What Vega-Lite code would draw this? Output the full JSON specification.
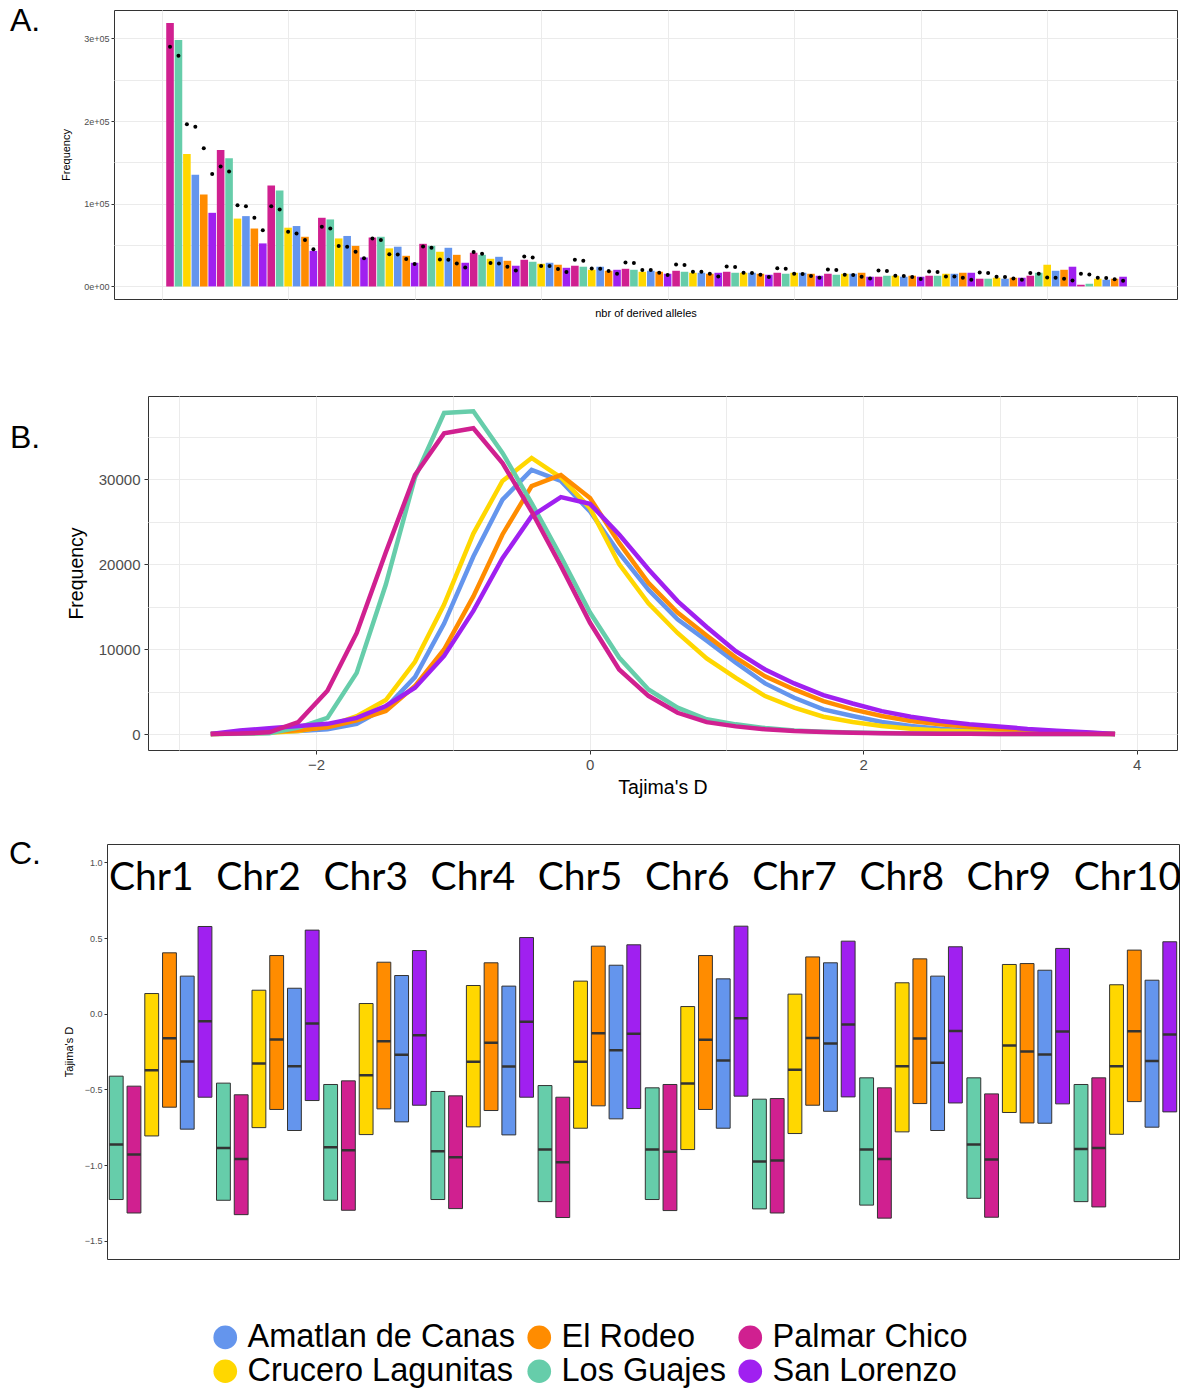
{
"$schema":"https://vega.github.io/schema/vega-lite/v6.json",
"padding":{"left":0,"top":4,"right":0,"bottom":0},
"config":{"font":"Liberation Sans","view":{"stroke":"#333","strokeWidth":1},
"axis":{"domain":false,"labelColor":"#4d4d4d","tickColor":"#333","gridColor":"#ebebeb","gridWidth":1,"titleColor":"#000","titleFontWeight":"normal","labelFont":"Liberation Sans","titleFont":"Liberation Sans"}},
"datasets":{
"sfs":[
{"i":1,"pop":"Palmar Chico","n":318500,"e":290000},{"i":2,"pop":"Los Guajes","n":298000,"e":279000},{"i":3,"pop":"Crucero Lagunitas","n":160000,"e":196000},{"i":4,"pop":"Amatlan de Canas","n":135000,"e":193000},{"i":5,"pop":"El Rodeo","n":111000,"e":167000},{"i":6,"pop":"San Lorenzo","n":89000,"e":136000},
{"i":7,"pop":"Palmar Chico","n":165000,"e":145000},{"i":8,"pop":"Los Guajes","n":155000,"e":139000},{"i":9,"pop":"Crucero Lagunitas","n":82000,"e":98000},{"i":10,"pop":"Amatlan de Canas","n":85000,"e":97000},{"i":11,"pop":"El Rodeo","n":70000,"e":83000},{"i":12,"pop":"San Lorenzo","n":52000,"e":68000},
{"i":13,"pop":"Palmar Chico","n":122000,"e":97000},{"i":14,"pop":"Los Guajes","n":116000,"e":93000},{"i":15,"pop":"Crucero Lagunitas","n":71000,"e":66000},{"i":16,"pop":"Amatlan de Canas","n":73000,"e":64000},{"i":17,"pop":"El Rodeo","n":60000,"e":56000},{"i":18,"pop":"San Lorenzo","n":43000,"e":45000},
{"i":19,"pop":"Palmar Chico","n":83000,"e":72000},{"i":20,"pop":"Los Guajes","n":81000,"e":70000},{"i":21,"pop":"Crucero Lagunitas","n":58000,"e":49000},{"i":22,"pop":"Amatlan de Canas","n":61000,"e":48000},{"i":23,"pop":"El Rodeo","n":49000,"e":42000},{"i":24,"pop":"San Lorenzo","n":35000,"e":34000},
{"i":25,"pop":"Palmar Chico","n":59000,"e":58000},{"i":26,"pop":"Los Guajes","n":60000,"e":56000},{"i":27,"pop":"Crucero Lagunitas","n":46000,"e":39000},{"i":28,"pop":"Amatlan de Canas","n":48000,"e":38600},{"i":29,"pop":"El Rodeo","n":37000,"e":33000},{"i":30,"pop":"San Lorenzo","n":28600,"e":27000},
{"i":31,"pop":"Palmar Chico","n":51500,"e":48300},{"i":32,"pop":"Los Guajes","n":49100,"e":46700},{"i":33,"pop":"Crucero Lagunitas","n":41900,"e":32600},{"i":34,"pop":"Amatlan de Canas","n":46700,"e":32200},{"i":35,"pop":"El Rodeo","n":38200,"e":27800},{"i":36,"pop":"San Lorenzo","n":28600,"e":22900},
{"i":37,"pop":"Palmar Chico","n":40700,"e":41500},{"i":38,"pop":"Los Guajes","n":38200,"e":39500},{"i":39,"pop":"Crucero Lagunitas","n":33400,"e":28200},{"i":40,"pop":"Amatlan de Canas","n":35800,"e":27800},{"i":41,"pop":"El Rodeo","n":31000,"e":23800},{"i":42,"pop":"San Lorenzo","n":25000,"e":19300},
{"i":43,"pop":"Palmar Chico","n":32200,"e":36200},{"i":44,"pop":"Los Guajes","n":29800,"e":35000},{"i":45,"pop":"Crucero Lagunitas","n":27400,"e":24600},{"i":46,"pop":"Amatlan de Canas","n":28600,"e":24600},{"i":47,"pop":"El Rodeo","n":26200,"e":20900},{"i":48,"pop":"San Lorenzo","n":22500,"e":17300},
{"i":49,"pop":"Palmar Chico","n":25000,"e":32200},{"i":50,"pop":"Los Guajes","n":23800,"e":31000},{"i":51,"pop":"Crucero Lagunitas","n":20100,"e":21700},{"i":52,"pop":"Amatlan de Canas","n":23800,"e":21300},{"i":53,"pop":"El Rodeo","n":18900,"e":18500},{"i":54,"pop":"San Lorenzo","n":20100,"e":15300},
{"i":55,"pop":"Palmar Chico","n":21300,"e":29000},{"i":56,"pop":"Los Guajes","n":20100,"e":28200},{"i":57,"pop":"Crucero Lagunitas","n":17700,"e":19700},{"i":58,"pop":"Amatlan de Canas","n":18900,"e":19700},{"i":59,"pop":"El Rodeo","n":17700,"e":16500},{"i":60,"pop":"San Lorenzo","n":15300,"e":13700},
{"i":61,"pop":"Palmar Chico","n":18900,"e":26600},{"i":62,"pop":"Los Guajes","n":17700,"e":25800},{"i":63,"pop":"Crucero Lagunitas","n":16500,"e":17700},{"i":64,"pop":"Amatlan de Canas","n":16500,"e":17700},{"i":65,"pop":"El Rodeo","n":15300,"e":15300},{"i":66,"pop":"San Lorenzo","n":16500,"e":12100},
{"i":67,"pop":"Palmar Chico","n":17700,"e":24200},{"i":68,"pop":"Los Guajes","n":16500,"e":23400},{"i":69,"pop":"Crucero Lagunitas","n":16500,"e":16500},{"i":70,"pop":"Amatlan de Canas","n":16500,"e":16100},{"i":71,"pop":"El Rodeo","n":15300,"e":14100},{"i":72,"pop":"San Lorenzo","n":14100,"e":11300},
{"i":73,"pop":"Palmar Chico","n":16500,"e":22100},{"i":74,"pop":"Los Guajes","n":15300,"e":21300},{"i":75,"pop":"Crucero Lagunitas","n":16500,"e":15300},{"i":76,"pop":"Amatlan de Canas","n":16500,"e":14900},{"i":77,"pop":"El Rodeo","n":15300,"e":12500},{"i":78,"pop":"San Lorenzo","n":12900,"e":10500},
{"i":79,"pop":"Palmar Chico","n":15300,"e":20500},{"i":80,"pop":"Los Guajes","n":14100,"e":19700},{"i":81,"pop":"Crucero Lagunitas","n":15300,"e":14100},{"i":82,"pop":"Amatlan de Canas","n":15300,"e":13700},{"i":83,"pop":"El Rodeo","n":16500,"e":11700},{"i":84,"pop":"San Lorenzo","n":11700,"e":9700},
{"i":85,"pop":"Palmar Chico","n":11700,"e":19300},{"i":86,"pop":"Los Guajes","n":12900,"e":18500},{"i":87,"pop":"Crucero Lagunitas","n":12900,"e":12900},{"i":88,"pop":"Amatlan de Canas","n":11700,"e":12500},{"i":89,"pop":"El Rodeo","n":12900,"e":11300},{"i":90,"pop":"San Lorenzo","n":11700,"e":8900},
{"i":91,"pop":"Palmar Chico","n":12900,"e":18100},{"i":92,"pop":"Los Guajes","n":12900,"e":17300},{"i":93,"pop":"Crucero Lagunitas","n":15300,"e":12100},{"i":94,"pop":"Amatlan de Canas","n":15300,"e":12100},{"i":95,"pop":"El Rodeo","n":16500,"e":10500},{"i":96,"pop":"San Lorenzo","n":16500,"e":8100},
{"i":97,"pop":"Palmar Chico","n":9300,"e":16900},{"i":98,"pop":"Los Guajes","n":9300,"e":16100},{"i":99,"pop":"Crucero Lagunitas","n":10500,"e":11700},{"i":100,"pop":"Amatlan de Canas","n":9300,"e":11300},{"i":101,"pop":"El Rodeo","n":10500,"e":9700},{"i":102,"pop":"San Lorenzo","n":10500,"e":8100},
{"i":103,"pop":"Palmar Chico","n":12900,"e":16100},{"i":104,"pop":"Los Guajes","n":16500,"e":15300},{"i":105,"pop":"Crucero Lagunitas","n":26200,"e":10900},{"i":106,"pop":"Amatlan de Canas","n":18900,"e":10500},{"i":107,"pop":"El Rodeo","n":20100,"e":9300},{"i":108,"pop":"San Lorenzo","n":23800,"e":7200},
{"i":109,"pop":"Palmar Chico","n":2000,"e":15300},{"i":110,"pop":"Los Guajes","n":3200,"e":14500},{"i":111,"pop":"Crucero Lagunitas","n":9300,"e":10500},{"i":112,"pop":"Amatlan de Canas","n":8100,"e":10100},{"i":113,"pop":"El Rodeo","n":9300,"e":8500},{"i":114,"pop":"San Lorenzo","n":11700,"e":6800}
],
"td":[
{"pop":"Amatlan de Canas","D":-2.770,"f":0},{"pop":"Amatlan de Canas","D":-2.557,"f":100},{"pop":"Amatlan de Canas","D":-2.343,"f":200},{"pop":"Amatlan de Canas","D":-2.130,"f":350},{"pop":"Amatlan de Canas","D":-1.917,"f":550},{"pop":"Amatlan de Canas","D":-1.703,"f":1200},{"pop":"Amatlan de Canas","D":-1.490,"f":3100},{"pop":"Amatlan de Canas","D":-1.277,"f":6700},{"pop":"Amatlan de Canas","D":-1.064,"f":13000},{"pop":"Amatlan de Canas","D":-0.850,"f":20900},{"pop":"Amatlan de Canas","D":-0.637,"f":27600},{"pop":"Amatlan de Canas","D":-0.424,"f":31100},{"pop":"Amatlan de Canas","D":-0.210,"f":29800},{"pop":"Amatlan de Canas","D":0.003,"f":26200},{"pop":"Amatlan de Canas","D":0.216,"f":21300},{"pop":"Amatlan de Canas","D":0.430,"f":17000},{"pop":"Amatlan de Canas","D":0.643,"f":13500},{"pop":"Amatlan de Canas","D":0.856,"f":11000},{"pop":"Amatlan de Canas","D":1.069,"f":8400},{"pop":"Amatlan de Canas","D":1.283,"f":5960},{"pop":"Amatlan de Canas","D":1.496,"f":4270},{"pop":"Amatlan de Canas","D":1.709,"f":2900},{"pop":"Amatlan de Canas","D":1.923,"f":2120},{"pop":"Amatlan de Canas","D":2.136,"f":1410},{"pop":"Amatlan de Canas","D":2.349,"f":940},{"pop":"Amatlan de Canas","D":2.563,"f":630},{"pop":"Amatlan de Canas","D":2.776,"f":430},{"pop":"Amatlan de Canas","D":2.989,"f":310},{"pop":"Amatlan de Canas","D":3.202,"f":200},{"pop":"Amatlan de Canas","D":3.416,"f":120},{"pop":"Amatlan de Canas","D":3.629,"f":60},{"pop":"Amatlan de Canas","D":3.842,"f":0},
{"pop":"Crucero Lagunitas","D":-2.770,"f":0},{"pop":"Crucero Lagunitas","D":-2.557,"f":50},{"pop":"Crucero Lagunitas","D":-2.343,"f":150},{"pop":"Crucero Lagunitas","D":-2.130,"f":350},{"pop":"Crucero Lagunitas","D":-1.917,"f":900},{"pop":"Crucero Lagunitas","D":-1.703,"f":2100},{"pop":"Crucero Lagunitas","D":-1.490,"f":4000},{"pop":"Crucero Lagunitas","D":-1.277,"f":8500},{"pop":"Crucero Lagunitas","D":-1.064,"f":15250},{"pop":"Crucero Lagunitas","D":-0.850,"f":23600},{"pop":"Crucero Lagunitas","D":-0.637,"f":29800},{"pop":"Crucero Lagunitas","D":-0.424,"f":32500},{"pop":"Crucero Lagunitas","D":-0.210,"f":30200},{"pop":"Crucero Lagunitas","D":0.003,"f":26600},{"pop":"Crucero Lagunitas","D":0.216,"f":20000},{"pop":"Crucero Lagunitas","D":0.430,"f":15400},{"pop":"Crucero Lagunitas","D":0.643,"f":11900},{"pop":"Crucero Lagunitas","D":0.856,"f":8900},{"pop":"Crucero Lagunitas","D":1.069,"f":6600},{"pop":"Crucero Lagunitas","D":1.283,"f":4470},{"pop":"Crucero Lagunitas","D":1.496,"f":3100},{"pop":"Crucero Lagunitas","D":1.709,"f":2040},{"pop":"Crucero Lagunitas","D":1.923,"f":1410},{"pop":"Crucero Lagunitas","D":2.136,"f":940},{"pop":"Crucero Lagunitas","D":2.349,"f":630},{"pop":"Crucero Lagunitas","D":2.563,"f":430},{"pop":"Crucero Lagunitas","D":2.776,"f":310},{"pop":"Crucero Lagunitas","D":2.989,"f":230},{"pop":"Crucero Lagunitas","D":3.202,"f":150},{"pop":"Crucero Lagunitas","D":3.416,"f":90},{"pop":"Crucero Lagunitas","D":3.629,"f":40},{"pop":"Crucero Lagunitas","D":3.842,"f":0},
{"pop":"El Rodeo","D":-2.770,"f":0},{"pop":"El Rodeo","D":-2.557,"f":100},{"pop":"El Rodeo","D":-2.343,"f":250},{"pop":"El Rodeo","D":-2.130,"f":450},{"pop":"El Rodeo","D":-1.917,"f":800},{"pop":"El Rodeo","D":-1.703,"f":1600},{"pop":"El Rodeo","D":-1.490,"f":2700},{"pop":"El Rodeo","D":-1.277,"f":5650},{"pop":"El Rodeo","D":-1.064,"f":9950},{"pop":"El Rodeo","D":-0.850,"f":16200},{"pop":"El Rodeo","D":-0.637,"f":23500},{"pop":"El Rodeo","D":-0.424,"f":29200},{"pop":"El Rodeo","D":-0.210,"f":30500},{"pop":"El Rodeo","D":0.003,"f":27800},{"pop":"El Rodeo","D":0.216,"f":22500},{"pop":"El Rodeo","D":0.430,"f":17800},{"pop":"El Rodeo","D":0.643,"f":14300},{"pop":"El Rodeo","D":0.856,"f":11600},{"pop":"El Rodeo","D":1.069,"f":9000},{"pop":"El Rodeo","D":1.283,"f":6800},{"pop":"El Rodeo","D":1.496,"f":5250},{"pop":"El Rodeo","D":1.709,"f":3880},{"pop":"El Rodeo","D":1.923,"f":2900},{"pop":"El Rodeo","D":2.136,"f":2120},{"pop":"El Rodeo","D":2.349,"f":1530},{"pop":"El Rodeo","D":2.563,"f":1140},{"pop":"El Rodeo","D":2.776,"f":860},{"pop":"El Rodeo","D":2.989,"f":630},{"pop":"El Rodeo","D":3.202,"f":420},{"pop":"El Rodeo","D":3.416,"f":260},{"pop":"El Rodeo","D":3.629,"f":140},{"pop":"El Rodeo","D":3.842,"f":0},
{"pop":"Los Guajes","D":-2.770,"f":0},{"pop":"Los Guajes","D":-2.557,"f":30},{"pop":"Los Guajes","D":-2.343,"f":100},{"pop":"Los Guajes","D":-2.130,"f":750},{"pop":"Los Guajes","D":-1.917,"f":1900},{"pop":"Los Guajes","D":-1.703,"f":7200},{"pop":"Los Guajes","D":-1.490,"f":17600},{"pop":"Los Guajes","D":-1.277,"f":30200},{"pop":"Los Guajes","D":-1.064,"f":37800},{"pop":"Los Guajes","D":-0.850,"f":38000},{"pop":"Los Guajes","D":-0.637,"f":33100},{"pop":"Los Guajes","D":-0.424,"f":27200},{"pop":"Los Guajes","D":-0.210,"f":20900},{"pop":"Los Guajes","D":0.003,"f":14300},{"pop":"Los Guajes","D":0.216,"f":9000},{"pop":"Los Guajes","D":0.430,"f":5250},{"pop":"Los Guajes","D":0.643,"f":3100},{"pop":"Los Guajes","D":0.856,"f":1730},{"pop":"Los Guajes","D":1.069,"f":1140},{"pop":"Los Guajes","D":1.283,"f":700},{"pop":"Los Guajes","D":1.496,"f":430},{"pop":"Los Guajes","D":1.709,"f":280},{"pop":"Los Guajes","D":1.923,"f":170},{"pop":"Los Guajes","D":2.136,"f":110},{"pop":"Los Guajes","D":2.349,"f":70},{"pop":"Los Guajes","D":2.563,"f":40},{"pop":"Los Guajes","D":2.776,"f":25},{"pop":"Los Guajes","D":2.989,"f":15},{"pop":"Los Guajes","D":3.202,"f":10},{"pop":"Los Guajes","D":3.416,"f":5},{"pop":"Los Guajes","D":3.629,"f":3},{"pop":"Los Guajes","D":3.842,"f":0},
{"pop":"San Lorenzo","D":-2.770,"f":0},{"pop":"San Lorenzo","D":-2.557,"f":430},{"pop":"San Lorenzo","D":-2.343,"f":670},{"pop":"San Lorenzo","D":-2.130,"f":940},{"pop":"San Lorenzo","D":-1.917,"f":1200},{"pop":"San Lorenzo","D":-1.703,"f":1900},{"pop":"San Lorenzo","D":-1.490,"f":3300},{"pop":"San Lorenzo","D":-1.277,"f":5450},{"pop":"San Lorenzo","D":-1.064,"f":9200},{"pop":"San Lorenzo","D":-0.850,"f":14500},{"pop":"San Lorenzo","D":-0.637,"f":20700},{"pop":"San Lorenzo","D":-0.424,"f":25650},{"pop":"San Lorenzo","D":-0.210,"f":27900},{"pop":"San Lorenzo","D":0.003,"f":27100},{"pop":"San Lorenzo","D":0.216,"f":23500},{"pop":"San Lorenzo","D":0.430,"f":19400},{"pop":"San Lorenzo","D":0.643,"f":15650},{"pop":"San Lorenzo","D":0.856,"f":12600},{"pop":"San Lorenzo","D":1.069,"f":9760},{"pop":"San Lorenzo","D":1.283,"f":7600},{"pop":"San Lorenzo","D":1.496,"f":5960},{"pop":"San Lorenzo","D":1.709,"f":4590},{"pop":"San Lorenzo","D":1.923,"f":3600},{"pop":"San Lorenzo","D":2.136,"f":2700},{"pop":"San Lorenzo","D":2.349,"f":2040},{"pop":"San Lorenzo","D":2.563,"f":1530},{"pop":"San Lorenzo","D":2.776,"f":1140},{"pop":"San Lorenzo","D":2.989,"f":900},{"pop":"San Lorenzo","D":3.202,"f":600},{"pop":"San Lorenzo","D":3.416,"f":380},{"pop":"San Lorenzo","D":3.629,"f":200},{"pop":"San Lorenzo","D":3.842,"f":0},
{"pop":"Palmar Chico","D":-2.770,"f":0},{"pop":"Palmar Chico","D":-2.557,"f":50},{"pop":"Palmar Chico","D":-2.343,"f":200},{"pop":"Palmar Chico","D":-2.130,"f":1400},{"pop":"Palmar Chico","D":-1.917,"f":5100},{"pop":"Palmar Chico","D":-1.703,"f":11900},{"pop":"Palmar Chico","D":-1.490,"f":21400},{"pop":"Palmar Chico","D":-1.277,"f":30500},{"pop":"Palmar Chico","D":-1.064,"f":35400},{"pop":"Palmar Chico","D":-0.850,"f":36000},{"pop":"Palmar Chico","D":-0.637,"f":31900},{"pop":"Palmar Chico","D":-0.424,"f":26200},{"pop":"Palmar Chico","D":-0.210,"f":19800},{"pop":"Palmar Chico","D":0.003,"f":13100},{"pop":"Palmar Chico","D":0.216,"f":7600},{"pop":"Palmar Chico","D":0.430,"f":4500},{"pop":"Palmar Chico","D":0.643,"f":2500},{"pop":"Palmar Chico","D":0.856,"f":1400},{"pop":"Palmar Chico","D":1.069,"f":900},{"pop":"Palmar Chico","D":1.283,"f":550},{"pop":"Palmar Chico","D":1.496,"f":350},{"pop":"Palmar Chico","D":1.709,"f":240},{"pop":"Palmar Chico","D":1.923,"f":150},{"pop":"Palmar Chico","D":2.136,"f":100},{"pop":"Palmar Chico","D":2.349,"f":60},{"pop":"Palmar Chico","D":2.563,"f":40},{"pop":"Palmar Chico","D":2.776,"f":25},{"pop":"Palmar Chico","D":2.989,"f":15},{"pop":"Palmar Chico","D":3.202,"f":10},{"pop":"Palmar Chico","D":3.416,"f":5},{"pop":"Palmar Chico","D":3.629,"f":3},{"pop":"Palmar Chico","D":3.842,"f":0}
],
"chr":[
{"chr":"Chr1","pop":"Los Guajes","lo":-1.227,"hi":-0.412,"mid":-0.864},{"chr":"Chr1","pop":"Palmar Chico","lo":-1.316,"hi":-0.478,"mid":-0.930},{"chr":"Chr1","pop":"Crucero Lagunitas","lo":-0.807,"hi":0.134,"mid":-0.373},{"chr":"Chr1","pop":"El Rodeo","lo":-0.617,"hi":0.403,"mid":-0.161},{"chr":"Chr1","pop":"Amatlan de Canas","lo":-0.762,"hi":0.249,"mid":-0.315},{"chr":"Chr1","pop":"San Lorenzo","lo":-0.551,"hi":0.577,"mid":-0.049},
{"chr":"Chr2","pop":"Los Guajes","lo":-1.232,"hi":-0.458,"mid":-0.886},{"chr":"Chr2","pop":"Palmar Chico","lo":-1.327,"hi":-0.535,"mid":-0.959},{"chr":"Chr2","pop":"Crucero Lagunitas","lo":-0.752,"hi":0.156,"mid":-0.329},{"chr":"Chr2","pop":"El Rodeo","lo":-0.632,"hi":0.385,"mid":-0.170},{"chr":"Chr2","pop":"Amatlan de Canas","lo":-0.771,"hi":0.169,"mid":-0.346},{"chr":"Chr2","pop":"San Lorenzo","lo":-0.573,"hi":0.553,"mid":-0.064},
{"chr":"Chr3","pop":"Los Guajes","lo":-1.232,"hi":-0.467,"mid":-0.881},{"chr":"Chr3","pop":"Palmar Chico","lo":-1.298,"hi":-0.443,"mid":-0.901},{"chr":"Chr3","pop":"Crucero Lagunitas","lo":-0.798,"hi":0.068,"mid":-0.406},{"chr":"Chr3","pop":"El Rodeo","lo":-0.628,"hi":0.341,"mid":-0.181},{"chr":"Chr3","pop":"Amatlan de Canas","lo":-0.714,"hi":0.253,"mid":-0.271},{"chr":"Chr3","pop":"San Lorenzo","lo":-0.604,"hi":0.418,"mid":-0.141},
{"chr":"Chr4","pop":"Los Guajes","lo":-1.227,"hi":-0.513,"mid":-0.908},{"chr":"Chr4","pop":"Palmar Chico","lo":-1.287,"hi":-0.542,"mid":-0.947},{"chr":"Chr4","pop":"Crucero Lagunitas","lo":-0.747,"hi":0.187,"mid":-0.317},{"chr":"Chr4","pop":"El Rodeo","lo":-0.639,"hi":0.337,"mid":-0.192},{"chr":"Chr4","pop":"Amatlan de Canas","lo":-0.800,"hi":0.183,"mid":-0.348},{"chr":"Chr4","pop":"San Lorenzo","lo":-0.551,"hi":0.504,"mid":-0.053},
{"chr":"Chr5","pop":"Los Guajes","lo":-1.241,"hi":-0.474,"mid":-0.897},{"chr":"Chr5","pop":"Palmar Chico","lo":-1.346,"hi":-0.551,"mid":-0.981},{"chr":"Chr5","pop":"Crucero Lagunitas","lo":-0.756,"hi":0.216,"mid":-0.317},{"chr":"Chr5","pop":"El Rodeo","lo":-0.608,"hi":0.447,"mid":-0.128},{"chr":"Chr5","pop":"Amatlan de Canas","lo":-0.694,"hi":0.321,"mid":-0.240},{"chr":"Chr5","pop":"San Lorenzo","lo":-0.626,"hi":0.456,"mid":-0.132},
{"chr":"Chr6","pop":"Los Guajes","lo":-1.227,"hi":-0.489,"mid":-0.897},{"chr":"Chr6","pop":"Palmar Chico","lo":-1.300,"hi":-0.467,"mid":-0.912},{"chr":"Chr6","pop":"Crucero Lagunitas","lo":-0.897,"hi":0.048,"mid":-0.461},{"chr":"Chr6","pop":"El Rodeo","lo":-0.632,"hi":0.385,"mid":-0.172},{"chr":"Chr6","pop":"Amatlan de Canas","lo":-0.756,"hi":0.231,"mid":-0.308},{"chr":"Chr6","pop":"San Lorenzo","lo":-0.544,"hi":0.579,"mid":-0.029},
{"chr":"Chr7","pop":"Los Guajes","lo":-1.289,"hi":-0.564,"mid":-0.976},{"chr":"Chr7","pop":"Palmar Chico","lo":-1.316,"hi":-0.560,"mid":-0.969},{"chr":"Chr7","pop":"Crucero Lagunitas","lo":-0.791,"hi":0.130,"mid":-0.370},{"chr":"Chr7","pop":"El Rodeo","lo":-0.604,"hi":0.376,"mid":-0.159},{"chr":"Chr7","pop":"Amatlan de Canas","lo":-0.644,"hi":0.337,"mid":-0.196},{"chr":"Chr7","pop":"San Lorenzo","lo":-0.549,"hi":0.480,"mid":-0.071},
{"chr":"Chr8","pop":"Los Guajes","lo":-1.264,"hi":-0.423,"mid":-0.897},{"chr":"Chr8","pop":"Palmar Chico","lo":-1.350,"hi":-0.489,"mid":-0.959},{"chr":"Chr8","pop":"Crucero Lagunitas","lo":-0.780,"hi":0.205,"mid":-0.346},{"chr":"Chr8","pop":"El Rodeo","lo":-0.593,"hi":0.363,"mid":-0.163},{"chr":"Chr8","pop":"Amatlan de Canas","lo":-0.771,"hi":0.249,"mid":-0.324},{"chr":"Chr8","pop":"San Lorenzo","lo":-0.589,"hi":0.443,"mid":-0.113},
{"chr":"Chr9","pop":"Los Guajes","lo":-1.219,"hi":-0.423,"mid":-0.864},{"chr":"Chr9","pop":"Palmar Chico","lo":-1.344,"hi":-0.529,"mid":-0.963},{"chr":"Chr9","pop":"Crucero Lagunitas","lo":-0.652,"hi":0.326,"mid":-0.209},{"chr":"Chr9","pop":"El Rodeo","lo":-0.721,"hi":0.332,"mid":-0.249},{"chr":"Chr9","pop":"Amatlan de Canas","lo":-0.723,"hi":0.288,"mid":-0.269},{"chr":"Chr9","pop":"San Lorenzo","lo":-0.595,"hi":0.432,"mid":-0.117},
{"chr":"Chr10","pop":"Los Guajes","lo":-1.241,"hi":-0.467,"mid":-0.894},{"chr":"Chr10","pop":"Palmar Chico","lo":-1.276,"hi":-0.423,"mid":-0.886},{"chr":"Chr10","pop":"Crucero Lagunitas","lo":-0.796,"hi":0.192,"mid":-0.346},{"chr":"Chr10","pop":"El Rodeo","lo":-0.580,"hi":0.421,"mid":-0.115},{"chr":"Chr10","pop":"Amatlan de Canas","lo":-0.749,"hi":0.222,"mid":-0.311},{"chr":"Chr10","pop":"San Lorenzo","lo":-0.648,"hi":0.476,"mid":-0.137}
],
"chrlab":[{"chr":"Chr1"},{"chr":"Chr2"},{"chr":"Chr3"},{"chr":"Chr4"},{"chr":"Chr5"},{"chr":"Chr6"},{"chr":"Chr7"},{"chr":"Chr8"},{"chr":"Chr9"},{"chr":"Chr10"}]
},
"spacing":41,
"vconcat":[
{"spacing":76,"vconcat":[
 {"spacing":10,"hconcat":[
  {"width":50,"height":21,"view":{"stroke":null},"data":{"values":[{"t":"A."}]},"mark":{"type":"text","fontSize":32,"color":"#000"},"encoding":{"text":{"field":"t","type":"nominal"}}},
  {"width":1063,"height":289,"data":{"name":"sfs"},
   "layer":[
    {"mark":{"type":"bar","size":7.6},
     "encoding":{
      "x":{"field":"i","type":"quantitative","scale":{"domain":[-5.05,119.8],"nice":false,"zero":false},"axis":{"values":[0,15,30,45,60,75,90,105],"labels":false,"ticks":false,"grid":true,"title":"nbr of derived alleles","titleFontSize":11,"titlePadding":8}},
      "y":{"field":"n","type":"quantitative","scale":{"domain":[-15240,334300],"nice":false},"axis":{"values":[0,50000,100000,150000,200000,250000,300000],"labelExpr":"datum.value % 100000 === 0 ? (datum.value === 0 ? '0e+00' : replace(format(datum.value, '.0e'), '+', '+0')) : ''","labelFontSize":9,"tickSize":3,"labelPadding":2,"tickColor":{"condition":{"test":"datum.value % 100000 === 0","value":"#333"},"value":"transparent"},"grid":true,"title":"Frequency","titleFontSize":11,"titlePadding":12}},
      "color":{"field":"pop","type":"nominal","scale":{"domain":["Amatlan de Canas","El Rodeo","Palmar Chico","Crucero Lagunitas","Los Guajes","San Lorenzo"],"range":["#6495ED","#FF8C00","#D02090","#FFD700","#66CDAA","#A020F0"]},
        "legend":{"orient":"none","legendX":209,"legendY":1311,"direction":"horizontal","columns":3,"title":null,"labelFontSize":32.5,"labelColor":"#000","labelLimit":500,"symbolType":"circle","symbolSize":560,"symbolStrokeWidth":0,"labelOffset":6,"columnPadding":8,"rowPadding":1,"symbolOpacity":1}}
     }},
    {"mark":{"type":"circle","size":16,"color":"#000","opacity":1},
     "encoding":{"x":{"field":"i","type":"quantitative"},"y":{"field":"e","type":"quantitative"}}}
   ]}
 ]},
 {"spacing":15,"hconcat":[
  {"width":50,"height":84,"view":{"stroke":null},"data":{"values":[{"t":"B."}]},"mark":{"type":"text","fontSize":32,"color":"#000"},"encoding":{"text":{"field":"t","type":"nominal"}}},
  {"width":1029,"height":354,"data":{"name":"td"},
   "mark":{"type":"line","strokeWidth":4.5},
   "encoding":{
    "x":{"field":"D","type":"quantitative","scale":{"domain":[-3.229,4.295],"nice":false,"zero":false},"axis":{"values":[-3,-2,-1,0,1,2,3,4],"format":"d","labelExpr":"datum.value % 2 === 0 ? datum.label : ''","tickColor":{"condition":{"test":"datum.value % 2 === 0","value":"#333"},"value":"transparent"},"labelFontSize":15,"tickSize":4,"labelPadding":3,"grid":true,"title":"Tajima's D","titleFontSize":19.5,"titlePadding":6}},
    "y":{"field":"f","type":"quantitative","scale":{"domain":[-1880,39800],"nice":false},"axis":{"values":[0,5000,10000,15000,20000,25000,30000,35000],"format":"d","labelExpr":"datum.value % 10000 === 0 ? datum.label : ''","tickColor":{"condition":{"test":"datum.value % 10000 === 0","value":"#333"},"value":"transparent"},"labelFontSize":15,"tickSize":4,"labelPadding":4,"grid":true,"title":"Frequency","titleFontSize":19.5,"titlePadding":12}},
    "color":{"field":"pop","type":"nominal","scale":{"domain":["Amatlan de Canas","El Rodeo","Palmar Chico","Crucero Lagunitas","Los Guajes","San Lorenzo"],"range":["#6495ED","#FF8C00","#D02090","#FFD700","#66CDAA","#A020F0"]},
        "legend":{"orient":"none","legendX":209,"legendY":1311,"direction":"horizontal","columns":3,"title":null,"labelFontSize":32.5,"labelColor":"#000","labelLimit":500,"symbolType":"circle","symbolSize":560,"symbolStrokeWidth":0,"labelOffset":6,"columnPadding":8,"rowPadding":1,"symbolOpacity":1}}
   }}
 ]}
]},
{"spacing":12,"hconcat":[
 {"width":50,"height":20,"view":{"stroke":null},"data":{"values":[{"t":"C."}]},"mark":{"type":"text","fontSize":32,"color":"#000"},"encoding":{"text":{"field":"t","type":"nominal"}}},
 {"width":1072,"height":415,
  "layer":[
   {"data":{"name":"chr"},"mark":{"type":"bar","stroke":"#333","strokeWidth":1},
    "encoding":{
     "x":{"field":"chr","type":"nominal","sort":["Chr1","Chr2","Chr3","Chr4","Chr5","Chr6","Chr7","Chr8","Chr9","Chr10"],"scale":{"paddingInner":0,"paddingOuter":0},"axis":null},
     "xOffset":{"field":"pop","type":"nominal","sort":["Los Guajes","Palmar Chico","Crucero Lagunitas","El Rodeo","Amatlan de Canas","San Lorenzo"],"scale":{"paddingInner":0.22,"paddingOuter":0.13}},
     "y":{"field":"lo","type":"quantitative","scale":{"domain":[-1.62,1.122],"nice":false,"zero":false},"axis":{"values":[-1.5,-1,-0.5,0,0.5,1],"format":".1f","labelFontSize":9,"tickSize":3,"labelPadding":2,"grid":false,"title":"Tajima's D","titleFontSize":11,"titlePadding":10}},
     "y2":{"field":"hi"},
     "color":{"field":"pop","type":"nominal","scale":{"domain":["Amatlan de Canas","El Rodeo","Palmar Chico","Crucero Lagunitas","Los Guajes","San Lorenzo"],"range":["#6495ED","#FF8C00","#D02090","#FFD700","#66CDAA","#A020F0"]},
        "legend":{"orient":"none","legendX":209,"legendY":1311,"direction":"horizontal","columns":3,"title":null,"labelFontSize":32.5,"labelColor":"#000","labelLimit":500,"symbolType":"circle","symbolSize":560,"symbolStrokeWidth":0,"labelOffset":6,"columnPadding":8,"rowPadding":1,"symbolOpacity":1}}
    }},
   {"data":{"name":"chr"},"mark":{"type":"bar","stroke":"#333","strokeWidth":2.5,"fill":"#333"},
    "encoding":{
     "x":{"field":"chr","type":"nominal","sort":["Chr1","Chr2","Chr3","Chr4","Chr5","Chr6","Chr7","Chr8","Chr9","Chr10"]},
     "xOffset":{"field":"pop","type":"nominal","sort":["Los Guajes","Palmar Chico","Crucero Lagunitas","El Rodeo","Amatlan de Canas","San Lorenzo"]},
     "y":{"field":"mid","type":"quantitative"},
     "y2":{"field":"mid"}
    }},
   {"mark":{"type":"rule","color":"#F5C400","strokeWidth":1.2},"encoding":{"y":{"datum":-0.353}}},
   {"data":{"name":"chrlab"},"mark":{"type":"text","align":"left","baseline":"middle","fontSize":39,"font":"Lato","color":"#000","dx":2},
    "encoding":{
     "x":{"field":"chr","type":"nominal","bandPosition":0,"sort":["Chr1","Chr2","Chr3","Chr4","Chr5","Chr6","Chr7","Chr8","Chr9","Chr10"]},
     "y":{"datum":0.9},
     "text":{"field":"chr","type":"nominal"}
    }}
  ]}
]}
]
}
